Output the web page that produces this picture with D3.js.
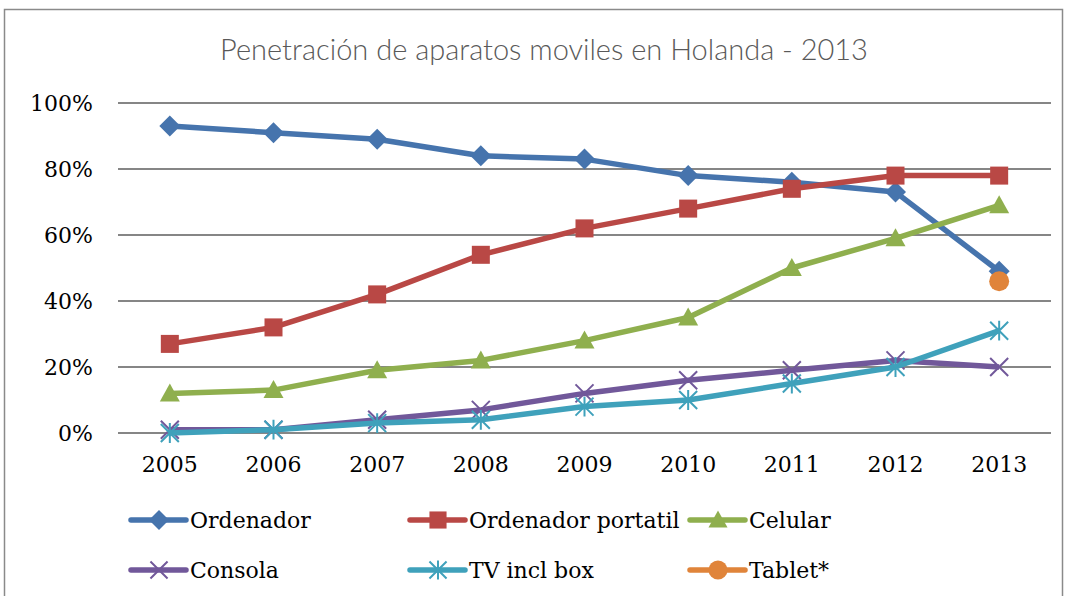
<!DOCTYPE html>
<html><head><meta charset="utf-8">
<script src="https://cdn.jsdelivr.net/npm/d3@7"></script>
<style>body{margin:0;background:#fff}svg{display:block}</style>
</head><body>
<script>
const years = ["2005","2006","2007","2008","2009","2010","2011","2012","2013"];
const ordenador = [93,91,89,84,83,78,76,73,49];
const portatil = [27,32,42,54,62,68,74,78,78];
const celular = [12,13,19,22,28,35,50,59,69];
const consola = [1,1,4,7,12,16,19,22,20];
const tv = [0,1,3,4,8,10,15,20,31];
const tablet = [null,null,null,null,null,null,null,null,46];
const yTicks = [0,20,40,60,80,100];
const seriesNames = ["Ordenador","Ordenador portatil","Celular","Consola","TV incl box","Tablet*"];

const series = [
  {name:seriesNames[0], values:ordenador, color:"#4674ad", marker:"diamond"},
  {name:seriesNames[1], values:portatil, color:"#b94845", marker:"square"},
  {name:seriesNames[2], values:celular, color:"#8faf4e", marker:"triangle"},
  {name:seriesNames[3], values:consola, color:"#71589a", marker:"x"},
  {name:seriesNames[4], values:tv, color:"#3fa1bb", marker:"star"},
  {name:seriesNames[5], values:tablet, color:"#e0843a", marker:"circle"}
];

const W=1069,H=596;
const svg=d3.select("body").append("svg").attr("width",W).attr("height",H);
svg.append("rect").attr("x",4.5).attr("y",9.5).attr("width",1058).attr("height",600)
  .attr("fill","#fff").attr("stroke","#8a8a8a").attr("stroke-width",1.5);

svg.append("text").attr("x",544).attr("y",60).attr("text-anchor","middle")
  .attr("font-family","Lato, 'Open Sans', sans-serif").attr("font-size",29).attr("font-weight",300)
  .attr("fill","#595959").text("Penetración de aparatos moviles en Holanda - 2013");

const x=d3.scaleBand().domain(years).range([118,1051]);
const y=d3.scaleLinear().domain([0,100]).range([433,103]);

// gridlines
svg.append("g").selectAll("line").data(yTicks).join("line")
  .attr("x1",118).attr("x2",1051).attr("y1",d=>y(d)).attr("y2",d=>y(d))
  .attr("stroke","#868686").attr("stroke-width",2);

const yAxis=svg.append("g").attr("transform","translate(118,0)")
  .call(d3.axisLeft(y).tickValues(yTicks).tickSize(0).tickPadding(25).tickFormat(d=>d+"%"));
yAxis.select(".domain").remove();
yAxis.selectAll("text").attr("font-family","'DejaVu Serif', serif").attr("font-size",22).attr("fill","#000").attr("dy","0.35em");

const xAxis=svg.append("g").attr("transform","translate(0,433)")
  .call(d3.axisBottom(x).tickSize(0).tickPadding(23));
xAxis.select(".domain").remove();
xAxis.selectAll("text").attr("font-family","'DejaVu Serif', serif").attr("font-size",22).attr("fill","#000").attr("dy","0.71em");

const cx=d=>x(d)+x.bandwidth()/2;

function drawMarker(g,type,color,px,py,s){
  s=s||1;
  if(type==="diamond"){
    const r=10.5*s;
    g.append("path").attr("d",`M${px},${py-r}L${px+r},${py}L${px},${py+r}L${px-r},${py}Z`).attr("fill",color);
  } else if(type==="square"){
    const r=9*s;
    g.append("rect").attr("x",px-r).attr("y",py-r).attr("width",2*r).attr("height",2*r).attr("fill",color);
  } else if(type==="triangle"){
    const r=10*s;
    g.append("path").attr("d",`M${px},${py-r}L${px+r},${py+r*0.8}L${px-r},${py+r*0.8}Z`).attr("fill",color);
  } else if(type==="x"){
    const r=9*s;
    g.append("path").attr("d",`M${px-r},${py-r}L${px+r},${py+r}M${px-r},${py+r}L${px+r},${py-r}`).attr("stroke",color).attr("stroke-width",2);
  } else if(type==="star"){
    const r=9*s;
    g.append("path").attr("d",`M${px-r},${py-r}L${px+r},${py+r}M${px-r},${py+r}L${px+r},${py-r}M${px},${py-r*1.1}L${px},${py+r*1.1}`).attr("stroke",color).attr("stroke-width",2);
  } else if(type==="circle"){
    g.append("circle").attr("cx",px).attr("cy",py).attr("r",10*s).attr("fill",color);
  }
}

const line=d3.line().defined(d=>d.v!=null).x(d=>cx(d.year)).y(d=>y(d.v));
series.forEach(s=>{
  const pts=years.map((yr,i)=>({year:yr,v:s.values[i]}));
  const g=svg.append("g");
  g.append("path").datum(pts).attr("d",line).attr("fill","none")
    .attr("stroke",s.color).attr("stroke-width",5.5).attr("stroke-linejoin","round");
  pts.filter(p=>p.v!=null).forEach(p=>drawMarker(g,s.marker,s.color,cx(p.year),y(p.v)));
});

// legend
const legPos=[[131,520],[410,520],[690,520],[131,570],[410,570],[690,570]];
series.forEach((s,i)=>{
  const [lx,ly]=legPos[i];
  const g=svg.append("g");
  g.append("line").attr("x1",lx).attr("x2",lx+55).attr("y1",ly).attr("y2",ly)
    .attr("stroke",s.color).attr("stroke-width",5.5).attr("stroke-linecap","round");
  drawMarker(g,s.marker,s.color,lx+28,ly,0.95);
  g.append("text").attr("x",lx+59).attr("y",ly).attr("dy","0.35em")
    .attr("font-family","'DejaVu Serif', serif").attr("font-size",22).attr("fill","#000").text(s.name);
});
</script>
</body></html>
